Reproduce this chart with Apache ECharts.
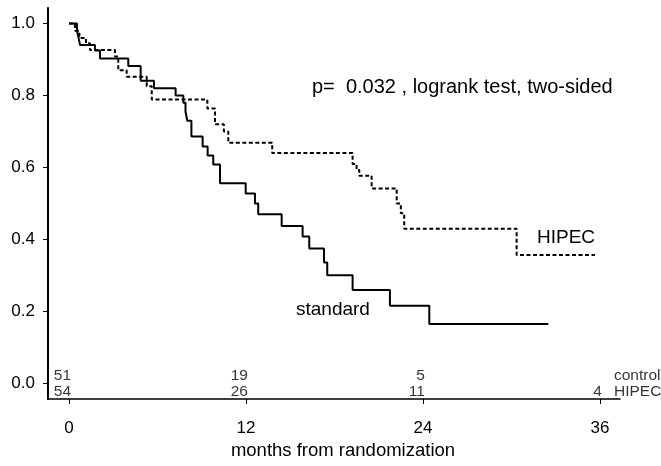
<!DOCTYPE html>
<html>
<head>
<meta charset="utf-8">
<script src="https://cdn.jsdelivr.net/npm/echarts@6/dist/echarts.min.js"></script>
<style>
html,body{margin:0;padding:0;background:#fff;}
#c{width:661px;height:466px;}
</style>
</head>
<body>
<div id="c"></div>
<script>
// Kaplan-Meier step data: [months, survival]
const standardCurve = [
  [0,1.0],[0.54,0.98],[0.65,0.96],[0.75,0.94],[1.76,0.925],[2.1,0.903],[4.02,0.882],
  [4.86,0.841],[5.76,0.82],[7.23,0.80],[7.75,0.78],[7.9,0.755],[8.02,0.73],[8.3,0.686],
  [9.06,0.658],[9.4,0.633],[9.78,0.608],[10.24,0.556],[11.98,0.528],[12.61,0.50],
  [12.83,0.47],[14.42,0.4375],[15.84,0.408],[16.29,0.375],[17.29,0.336],[17.51,0.301],
  [19.23,0.26],[21.76,0.216],[24.43,0.165],[32.5,0.165]
];
const hipecCurve = [
  [0,1.0],[0.4,0.98],[0.7,0.96],[1.15,0.945],[1.42,0.926],[3.12,0.908],[3.34,0.87],
  [3.91,0.852],[5.27,0.826],[5.61,0.789],[9.38,0.764],[9.9,0.72],[10.5,0.70],[10.8,0.669],
  [13.78,0.64],[19.23,0.61],[19.5,0.593],[19.68,0.577],[20.52,0.542],[22.22,0.50],
  [22.5,0.473],[22.73,0.43],[30.35,0.357],[35.66,0.357]
];
const riskMonths = [0, 12, 24, 36];
const riskControl = [51, 19, 5, null];
const riskHipec = [54, 26, 11, 4];
const rowNames = ['control', 'HIPEC'];
const xTicks = [0, 12, 24, 36];
const yTicks = [0, 0.2, 0.4, 0.6, 0.8, 1.0];
const pText = 'p=  0.032 , logrank test, two-sided';

const FONT = '"Liberation Sans", Arial, sans-serif';
const chart = echarts.init(document.getElementById('c'), null, {renderer: 'canvas'});

const ctrlRow = 0.022, hipRow = -0.023, rowNameX = 36.95;
const riskData = [];
riskMonths.forEach((m, i) => {
  if (riskControl[i] != null) riskData.push([m, ctrlRow, riskControl[i]]);
  if (riskHipec[i] != null) riskData.push([m, hipRow, riskHipec[i]]);
});
const rowData = [[rowNameX, ctrlRow, rowNames[0]], [rowNameX, hipRow, rowNames[1]]];

chart.setOption({
  animation: false,
  backgroundColor: '#fff',
  grid: {left: 48, top: 8, right: 41, bottom: 67, containLabel: false, outerBoundsMode: 'none'},
  xAxis: {
    type: 'value', min: -1.424, max: 37.36,
    splitLine: {show: false},
    axisLine: {show: true, onZero: false, lineStyle: {color: '#000', width: 1.5}},
    axisTick: {show: true, length: 5, lineStyle: {color: '#000', width: 1}, customValues: xTicks},
    axisLabel: {show: true, customValues: xTicks, margin: 21, color: '#000', fontSize: 17, fontFamily: FONT},
    name: 'months from randomization', nameLocation: 'middle', nameGap: 41,
    nameTextStyle: {color: '#000', fontSize: 18.5, fontFamily: FONT, padding: [0, 0, 0, 18]}
  },
  yAxis: {
    type: 'value', min: -0.043, max: 1.043,
    splitLine: {show: false},
    axisLine: {show: true, onZero: false, lineStyle: {color: '#000', width: 2}},
    axisTick: {show: true, length: 5, lineStyle: {color: '#000', width: 1}, customValues: yTicks},
    axisLabel: {show: true, customValues: yTicks, margin: 13, color: '#000', fontSize: 17, fontFamily: FONT,
      formatter: v => Number(v).toFixed(1)}
  },
  series: [
    {
      name: 'standard', type: 'line', step: 'end', data: standardCurve, showSymbol: false, symbol: 'none',
      lineStyle: {color: '#000', width: 2}
    },
    {
      name: 'HIPEC', type: 'line', step: 'end', data: hipecCurve, showSymbol: false, symbol: 'none',
      lineStyle: {color: '#000', width: 2, type: [4, 2.5]}
    },
    {
      type: 'scatter', data: riskData, symbolSize: 0, silent: true,
      label: {show: true, position: [2, 0], align: 'right', verticalAlign: 'middle',
        color: '#000', fontSize: 15.5, fontFamily: FONT, formatter: p => String(p.value[2])}
    },
    {
      type: 'scatter', data: rowData, symbolSize: 0, silent: true,
      label: {show: true, position: [0, 0], align: 'left', verticalAlign: 'middle',
        color: '#000', fontSize: 15.5, fontFamily: FONT, formatter: p => p.value[2]}
    }
  ],
  graphic: [
    {type: 'text', left: 312, top: 77, style: {text: pText, fill: '#000', font: '20px ' + FONT}},
    {type: 'text', left: 537, top: 228, style: {text: 'HIPEC', fill: '#000', font: '19px ' + FONT}},
    {type: 'text', left: 296, top: 300, style: {text: 'standard', fill: '#000', font: '19px ' + FONT}}
  ]
});
</script>
</body>
</html>
